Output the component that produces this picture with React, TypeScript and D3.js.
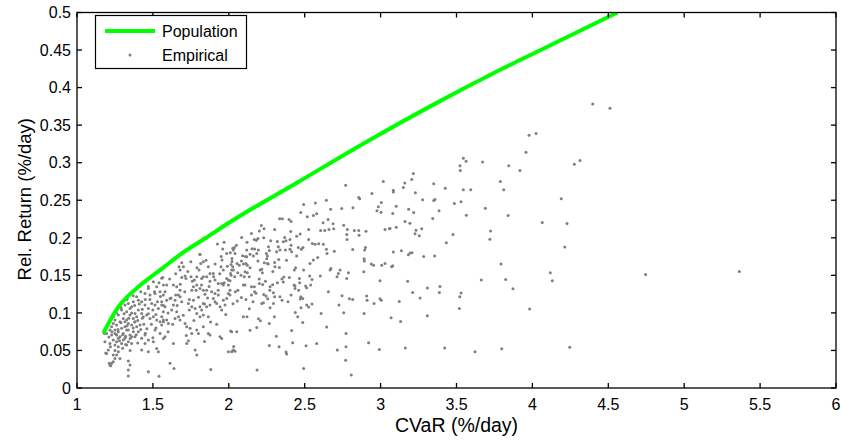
import * as d3 from "d3";

// population (true) efficient frontier
const popCvar = [1.173, 1.266, 1.43, 1.56, 1.675, 1.85, 2.009, 2.455, 2.9, 3.345, 3.791, 4.237, 4.56];
const popRet = [0.073, 0.106, 0.139, 0.159, 0.177, 0.2, 0.221, 0.274, 0.327, 0.377, 0.424, 0.468, 0.5];

// empirical portfolios: [CVaR, relative return]
const empirical: [number, number][] = [
  // far right
  [4.397, 0.378], [4.511, 0.3725], [4.314, 0.303], [4.746, 0.151], [5.363, 0.155],
  // 3.0 - 4.3
  [3.978, 0.3366], [4.024, 0.339], [3.958, 0.314], [4.276, 0.298], [3.545, 0.306], [3.563, 0.302],
  [3.523, 0.296], [3.525, 0.2896], [3.672, 0.301], [3.844, 0.296], [3.918, 0.2896], [3.789, 0.275],
  [3.811, 0.264], [3.545, 0.264], [3.594, 0.264], [3.426, 0.266], [3.35, 0.272], [3.216, 0.2856],
  [3.205, 0.2776], [3.159, 0.273], [3.15, 0.267], [3.084, 0.2634], [3.084, 0.261], [3.229, 0.26],
  [3.277, 0.2505], [3.35, 0.2497], [3.358, 0.251], [3.53, 0.248], [3.486, 0.2457], [3.103, 0.242],
  [3.69, 0.2395], [4.19, 0.252], [3.08, 0.2324], [3.185, 0.238], [3.218, 0.2337], [3.385, 0.236],
  [3.565, 0.23], [3.84, 0.2297], [3.343, 0.2257], [3.062, 0.2124], [3.103, 0.2142], [3.161, 0.2217],
  [3.193, 0.2195], [3.271, 0.212], [3.233, 0.21], [3.227, 0.2053], [3.255, 0.2026], [3.477, 0.2045],
  [3.725, 0.2089], [3.72, 0.198], [4.065, 0.2204], [4.228, 0.219], [4.213, 0.1876], [3.433, 0.1933],
  [3.084, 0.181], [3.137, 0.1827], [3.183, 0.1773], [3.194, 0.1796], [3.207, 0.18], [3.284, 0.1752],
  [3.356, 0.1756], [3.08, 0.1627], [3.073, 0.1614], [3.793, 0.165], [4.118, 0.1534], [4.131, 0.1428],
  [3.663, 0.1437], [3.824, 0.1446], [3.872, 0.1321], [3.178, 0.142], [3.391, 0.1353], [3.387, 0.1273],
  [3.308, 0.133], [3.211, 0.1273], [3.53, 0.1264], [3.521, 0.1215], [3.123, 0.1153], [3.26, 0.1197],
  [3.519, 0.106], [3.982, 0.1051], [3.069, 0.0935], [3.132, 0.0887], [3.308, 0.0962], [3.163, 0.0532],
  [3.422, 0.0532], [3.622, 0.0483], [3.798, 0.0523], [4.246, 0.0541],
  // 2.0 - 3.05
  [2.77, 0.27], [3.018, 0.275], [2.493, 0.2443], [2.57, 0.2465], [2.643, 0.25], [2.856, 0.2536],
  [2.862, 0.2519], [2.943, 0.259], [2.474, 0.2337], [2.517, 0.228], [2.557, 0.2297], [2.579, 0.232],
  [2.671, 0.238], [2.744, 0.239], [2.818, 0.2399], [2.985, 0.2412], [2.976, 0.236], [3.005, 0.247],
  [3.003, 0.234], [2.335, 0.2253], [2.353, 0.2253], [2.397, 0.2244], [2.41, 0.2217], [2.214, 0.2164],
  [2.232, 0.212], [2.201, 0.209], [2.302, 0.211], [2.168, 0.1978], [2.181, 0.1969], [2.192, 0.1991],
  [2.149, 0.2057], [2.085, 0.2004], [2.12, 0.1942], [2.276, 0.196], [2.368, 0.2004], [2.359, 0.1947],
  [2.377, 0.196], [2.408, 0.2084], [2.403, 0.1977], [2.447, 0.202], [2.526, 0.211], [2.605, 0.2097],
  [2.632, 0.2097], [2.66, 0.211], [2.691, 0.212], [2.687, 0.2186], [2.654, 0.2244], [2.621, 0.2199],
  [2.757, 0.2168], [2.781, 0.211], [2.777, 0.2044], [2.779, 0.1977], [2.827, 0.2097], [2.856, 0.2097],
  [2.904, 0.2088], [2.858, 0.2035], [3.029, 0.211], [3.058, 0.212], [2.526, 0.1977], [2.55, 0.1924],
  [2.568, 0.1915], [2.592, 0.192], [2.623, 0.1915], [2.489, 0.187], [2.478, 0.1849], [2.458, 0.187],
  [2.447, 0.1756], [2.643, 0.1849], [2.647, 0.179], [2.695, 0.182], [2.586, 0.1738], [2.557, 0.1703],
  [2.9, 0.187], [2.895, 0.1836], [2.891, 0.172], [2.893, 0.169], [2.816, 0.1844], [2.939, 0.165],
  [2.954, 0.1636], [3.007, 0.1636], [3.029, 0.1658], [2.889, 0.1547], [2.996, 0.1428], [2.673, 0.159],
  [2.667, 0.157], [2.713, 0.148], [2.722, 0.1525], [2.733, 0.157], [2.788, 0.1534], [2.777, 0.1459],
  [2.535, 0.1658], [2.533, 0.149], [2.603, 0.149], [2.493, 0.157], [2.432, 0.157], [2.465, 0.1459],
  [2.43, 0.137], [2.436, 0.1357], [2.399, 0.147], [2.362, 0.1477], [2.333, 0.1605], [2.302, 0.1671],
  [2.304, 0.1614], [2.329, 0.1711], [2.267, 0.183], [2.315, 0.1813], [2.261, 0.188], [2.25, 0.172],
  [2.234, 0.1667], [2.192, 0.169], [2.247, 0.179], [2.254, 0.1658], [2.221, 0.1534], [2.206, 0.157],
  [2.217, 0.158], [2.241, 0.142], [2.201, 0.1392], [2.223, 0.1379], [2.168, 0.1348], [2.149, 0.1348],
  [2.096, 0.137], [2.102, 0.148], [2.135, 0.148], [2.107, 0.1547], [2.122, 0.1534], [2.059, 0.1534],
  [2.03, 0.157], [2.015, 0.1645], [2.054, 0.1658], [2.096, 0.165], [2.113, 0.1658], [2.122, 0.1636],
  [2.083, 0.169], [2.069, 0.1636], [2.021, 0.1685], [2.026, 0.1614], [2.041, 0.179], [2.03, 0.1836],
  [2.037, 0.187], [2.118, 0.1836], [2.153, 0.1853], [2.195, 0.1836], [2.162, 0.1756], [2.184, 0.179],
  [2.118, 0.1747], [2.091, 0.176], [2.015, 0.15], [2.039, 0.148], [2.107, 0.137], [2.043, 0.128],
  [2.008, 0.13], [2.083, 0.1206], [2.113, 0.1179], [2.028, 0.1122], [2.056, 0.116], [2.149, 0.124],
  [2.179, 0.126], [2.23, 0.1246], [2.17, 0.128], [2.245, 0.1224], [2.256, 0.119], [2.217, 0.1126],
  [2.228, 0.1135], [2.294, 0.1126], [2.337, 0.1215], [2.351, 0.117], [2.272, 0.107], [2.135, 0.1055],
  [2.096, 0.0949], [2.14, 0.077], [2.184, 0.0807], [2.208, 0.0895], [2.195, 0.0922], [2.267, 0.086],
  [2.012, 0.0758], [2.052, 0.075], [2.032, 0.0554], [2.041, 0.0488], [2.026, 0.0497], [2.186, 0.024],
  [2.313, 0.069], [2.267, 0.0567], [2.331, 0.055], [2.377, 0.0479], [2.381, 0.0452], [2.414, 0.0767],
  [2.421, 0.0603], [2.438, 0.1006], [2.454, 0.0949], [2.476, 0.1068], [2.474, 0.1215], [2.471, 0.1184],
  [2.487, 0.1193], [2.513, 0.1104], [2.526, 0.108], [2.548, 0.1117], [2.487, 0.0873], [2.509, 0.0563],
  [2.493, 0.026], [2.579, 0.0594], [2.608, 0.0993], [2.645, 0.0811], [2.656, 0.128], [2.715, 0.0505],
  [2.726, 0.1104], [2.757, 0.1002], [2.772, 0.0727], [2.772, 0.055], [2.77, 0.037], [2.807, 0.0173],
  [2.746, 0.1228], [2.794, 0.119], [2.816, 0.1179], [2.908, 0.1224], [2.911, 0.117], [2.891, 0.0993],
  [2.957, 0.1126], [2.996, 0.119], [3.005, 0.117], [2.921, 0.0603], [2.992, 0.0514], [2.506, 0.1357],
  [2.513, 0.1335], [2.548, 0.1446], [2.539, 0.137], [2.467, 0.14], [2.41, 0.124], [2.436, 0.1325],
  [2.294, 0.1268], [2.302, 0.1215], [2.32, 0.14], [2.359, 0.141], [2.272, 0.1348], [2.289, 0.1375],
  [2.403, 0.1849], [2.414, 0.1813], [2.373, 0.1836], [2.326, 0.188], [2.337, 0.1836], [2.254, 0.1756],
  [2.14, 0.178],
  [2.05, 0.19], [2.08, 0.15], [2.11, 0.175], [2.14, 0.16], [2.17, 0.185], [2.2, 0.145], [2.23, 0.2],
  [2.26, 0.165], [2.29, 0.155], [2.32, 0.195], [2.35, 0.145], [2.38, 0.17], [2.41, 0.19], [2.44, 0.16],
  [2.47, 0.205], [2.06, 0.13], [2.16, 0.115], [2.27, 0.13], [2.39, 0.115], [2.46, 0.13], [2.12, 0.095],
  [2.3, 0.095],
  // 1.55 - 2.0
  [1.925, 0.1916], [1.969, 0.1942], [1.69, 0.1667], [1.701, 0.1614], [1.672, 0.1614], [1.679, 0.157],
  [1.81, 0.1778], [1.832, 0.168], [1.815, 0.1658], [1.804, 0.157], [1.955, 0.1703], [1.949, 0.1614],
  [1.964, 0.157], [2.01, 0.18], [1.986, 0.1791], [2.021, 0.1725], [2.026, 0.1862], [1.865, 0.1614],
  [1.876, 0.1525], [2.019, 0.157], [2.012, 0.1525], [1.565, 0.1472], [1.591, 0.137], [1.635, 0.137],
  [1.657, 0.1348], [1.679, 0.1303], [1.668, 0.1237], [1.712, 0.149], [1.718, 0.1459], [1.751, 0.1481],
  [1.789, 0.1481], [1.773, 0.1437], [1.821, 0.1459], [1.832, 0.1481], [1.854, 0.1481], [1.876, 0.1423],
  [1.898, 0.1525], [1.909, 0.1437], [1.931, 0.1392], [1.953, 0.1392], [1.964, 0.137], [1.997, 0.137],
  [1.986, 0.1459], [1.997, 0.1437], [2.008, 0.1428], [1.789, 0.137], [1.767, 0.1348], [1.756, 0.1303],
  [1.784, 0.1303], [1.81, 0.1326], [1.832, 0.1303], [1.843, 0.125], [1.854, 0.1303], [1.887, 0.1281],
  [1.909, 0.1259], [1.931, 0.1237], [1.898, 0.1193], [1.909, 0.1148], [1.997, 0.1259], [2.008, 0.1237],
  [1.986, 0.1193], [1.964, 0.117], [1.975, 0.1104], [1.942, 0.1082], [1.953, 0.1037], [1.92, 0.1126],
  [1.854, 0.1082], [1.876, 0.1104], [1.832, 0.1126], [1.81, 0.1082], [1.821, 0.1037], [1.767, 0.117],
  [1.756, 0.1082], [1.734, 0.1126], [1.74, 0.1037], [1.778, 0.106], [1.789, 0.0993], [1.81, 0.0949],
  [1.832, 0.0971], [1.865, 0.0949], [1.679, 0.1215], [1.69, 0.1148], [1.646, 0.117], [1.613, 0.1193],
  [1.635, 0.1104], [1.591, 0.117], [1.569, 0.1237], [1.558, 0.1148], [1.58, 0.1082], [1.624, 0.1037],
  [1.657, 0.1015], [1.668, 0.0949], [1.679, 0.0904], [1.646, 0.0927], [1.558, 0.0949], [1.569, 0.0882],
  [1.591, 0.0904], [1.602, 0.086], [1.712, 0.086], [1.723, 0.0816], [1.745, 0.0794], [1.756, 0.0727],
  [1.789, 0.0771], [1.8, 0.0727], [1.865, 0.0727], [1.876, 0.0705], [1.832, 0.0816], [1.942, 0.0683],
  [1.953, 0.066], [1.58, 0.0683], [1.569, 0.066], [1.635, 0.0594], [1.723, 0.0594], [1.734, 0.063],
  [1.778, 0.0505], [1.789, 0.0439], [1.997, 0.0483], [2.019, 0.0483], [2.03, 0.0505], [2.019, 0.0749],
  [1.613, 0.0328], [1.639, 0.0261], [1.881, 0.0248], [1.54, 0.0156],
  [1.58, 0.128], [1.6, 0.1], [1.61, 0.145], [1.62, 0.12], [1.63, 0.085], [1.65, 0.152], [1.66, 0.11],
  [1.68, 0.138], [1.7, 0.097], [1.71, 0.128], [1.73, 0.155], [1.74, 0.118], [1.76, 0.142], [1.77, 0.09],
  [1.79, 0.16], [1.8, 0.121], [1.82, 0.137], [1.84, 0.112], [1.85, 0.17], [1.87, 0.135], [1.88, 0.088],
  [1.9, 0.148], [1.91, 0.165], [1.93, 0.13], [1.94, 0.152], [1.96, 0.185], [1.97, 0.14], [1.98, 0.098],
  [1.99, 0.162], [1.6, 0.075], [1.72, 0.07], [1.84, 0.062], [1.92, 0.085], [1.65, 0.124], [1.75, 0.168],
  [1.86, 0.12], [1.95, 0.175], [1.69, 0.147], [1.81, 0.178], [1.57, 0.11],
  // 1.17 - 1.55
  [1.503, 0.1414], [1.525, 0.1348], [1.558, 0.146], [1.569, 0.137], [1.47, 0.1326], [1.448, 0.1259],
  [1.481, 0.1237], [1.514, 0.1259], [1.547, 0.1281], [1.393, 0.1215], [1.404, 0.117], [1.426, 0.1148],
  [1.448, 0.1104], [1.47, 0.106], [1.492, 0.1126], [1.514, 0.1104], [1.536, 0.106], [1.558, 0.1104],
  [1.569, 0.1015], [1.338, 0.1126], [1.36, 0.1082], [1.327, 0.1015], [1.349, 0.0971], [1.382, 0.0993],
  [1.404, 0.1037], [1.426, 0.0993], [1.437, 0.0949], [1.459, 0.0971], [1.481, 0.0927], [1.503, 0.0949],
  [1.525, 0.0904], [1.547, 0.0882], [1.569, 0.0904], [1.294, 0.1037], [1.272, 0.0971], [1.305, 0.0927],
  [1.283, 0.0882], [1.316, 0.0882], [1.25, 0.0904], [1.261, 0.0838], [1.239, 0.086], [1.228, 0.0816],
  [1.338, 0.086], [1.36, 0.0838], [1.382, 0.0882], [1.393, 0.0816], [1.415, 0.0838], [1.338, 0.0771],
  [1.371, 0.0749], [1.404, 0.0749], [1.349, 0.0705], [1.382, 0.0683], [1.294, 0.0794], [1.305, 0.0727],
  [1.272, 0.0749], [1.316, 0.0661], [1.283, 0.0683], [1.206, 0.0838], [1.217, 0.0771], [1.195, 0.0727],
  [1.228, 0.0705], [1.25, 0.0727], [1.239, 0.0638], [1.261, 0.0616], [1.217, 0.0594], [1.25, 0.0572],
  [1.272, 0.0549], [1.294, 0.0594], [1.327, 0.0572], [1.338, 0.0616], [1.36, 0.0594], [1.426, 0.0661],
  [1.448, 0.0705], [1.47, 0.0638], [1.503, 0.0616], [1.448, 0.0594], [1.514, 0.0771], [1.547, 0.0727],
  [1.558, 0.0838], [1.426, 0.0505], [1.47, 0.0483], [1.525, 0.0527], [1.536, 0.0483], [1.195, 0.0461],
  [1.206, 0.0505], [1.239, 0.0439], [1.25, 0.0394], [1.228, 0.0328], [1.217, 0.0306], [1.239, 0.035],
  [1.261, 0.0439], [1.283, 0.0394], [1.272, 0.0483], [1.338, 0.0359], [1.349, 0.0306], [1.338, 0.0239],
  [1.338, 0.016], [1.47, 0.0217], [1.18, 0.0727], [1.184, 0.0616], [1.316, 0.0816], [1.327, 0.0771],
  [1.25, 0.0771], [1.272, 0.0661], [1.305, 0.0638], [1.261, 0.0705], [1.36, 0.0683], [1.327, 0.0904],
  [1.371, 0.0927], [1.393, 0.0949], [1.349, 0.106], [1.316, 0.1104], [1.371, 0.1148], [1.189, 0.0466],
  [1.213, 0.033], [1.222, 0.0297],
  [1.21, 0.068], [1.23, 0.075], [1.24, 0.095], [1.26, 0.1], [1.28, 0.063], [1.29, 0.087], [1.3, 0.071],
  [1.31, 0.099], [1.32, 0.058], [1.33, 0.083], [1.34, 0.093], [1.35, 0.066], [1.36, 0.1], [1.37, 0.08],
  [1.38, 0.11], [1.39, 0.071], [1.4, 0.09], [1.41, 0.112], [1.42, 0.078], [1.43, 0.105], [1.44, 0.085],
  [1.45, 0.118], [1.46, 0.079], [1.47, 0.099], [1.48, 0.118], [1.49, 0.085], [1.5, 0.104], [1.51, 0.128],
  [1.52, 0.098], [1.53, 0.115], [1.54, 0.14], [1.55, 0.122], [1.22, 0.055], [1.25, 0.05], [1.27, 0.078],
  [1.3, 0.053], [1.35, 0.05], [1.4, 0.06], [1.45, 0.073], [1.5, 0.067], [1.29, 0.107], [1.33, 0.118],
  [1.37, 0.123], [1.42, 0.128], [1.47, 0.135], [1.26, 0.071], [1.32, 0.069], [1.38, 0.088], [1.43, 0.093],
  [1.52, 0.08],
];

const xTicks = [1, 1.5, 2, 2.5, 3, 3.5, 4, 4.5, 5, 5.5, 6];
const yTicks = [0, 0.05, 0.1, 0.15, 0.2, 0.25, 0.3, 0.35, 0.4, 0.45, 0.5];

const W = 841;
const H = 441;
const FONT = "'Liberation Sans', Arial, Helvetica, sans-serif";
const GREEN = "#00ff00";
const GREY = "#7f7f7f";

export default function App() {
  const x = d3.scaleLinear().domain([1, 6]).range([77, 836]);
  const y = d3.scaleLinear().domain([0, 0.5]).range([388, 12.5]);
  const [x0, x1] = x.range();
  const [y0, y1] = y.range();

  const popLine = d3
    .line<number>()
    .x((_, i) => x(popCvar[i]))
    .y((d) => y(d))
    .curve(d3.curveMonotoneX);

  const tick = 5;

  return (
    <svg
      width={W}
      height={H}
      style={{ position: "absolute", left: 0, top: 0, background: "#fff" }}
      fontFamily={FONT}
    >
      <defs>
        <clipPath id="plot">
          <rect x={x0} y={y1} width={x1 - x0} height={y0 - y1} />
        </clipPath>
      </defs>
      <rect width={W} height={H} fill="#fff" />

      {/* scatter */}
      <g fill={GREY}>
        {empirical.map(([c, r], i) => (
          <circle key={i} cx={x(c)} cy={y(r)} r={1.5} />
        ))}
      </g>

      {/* population frontier */}
      <path
        d={popLine(popRet) ?? ""}
        fill="none"
        stroke={GREEN}
        strokeWidth={4}
        strokeLinejoin="round"
        clipPath="url(#plot)"
      />

      {/* frame + ticks */}
      <g stroke="#000" strokeWidth={1.3} fill="none">
        <rect x={x0} y={y1} width={x1 - x0} height={y0 - y1} />
        {xTicks.map((t) => (
          <g key={"xt" + t}>
            <line x1={x(t)} x2={x(t)} y1={y0} y2={y0 - tick} />
            <line x1={x(t)} x2={x(t)} y1={y1} y2={y1 + tick} />
          </g>
        ))}
        {yTicks.map((t) => (
          <g key={"yt" + t}>
            <line x1={x0} x2={x0 + tick} y1={y(t)} y2={y(t)} />
            <line x1={x1} x2={x1 - tick} y1={y(t)} y2={y(t)} />
          </g>
        ))}
      </g>

      {/* tick labels */}
      <g fontSize={16} fill="#000">
        {xTicks.map((t) => (
          <text key={"xl" + t} x={x(t)} y={409.5} textAnchor="middle">
            {t}
          </text>
        ))}
        {yTicks.map((t) => (
          <text key={"yl" + t} x={71} y={y(t)} dy="0.36em" textAnchor="end">
            {t}
          </text>
        ))}
      </g>

      {/* axis labels */}
      <text x={(x0 + x1) / 2} y={431.5} fontSize={19.5} textAnchor="middle">
        CVaR (%/day)
      </text>
      <text
        transform={`translate(31,${(y0 + y1) / 2 - 1}) rotate(-90)`}
        fontSize={18.5}
        textAnchor="middle"
      >
        Rel. Return (%/day)
      </text>

      {/* legend */}
      <g>
        <rect x={95.5} y={15.5} width={151} height={53} fill="#fff" stroke="#000" strokeWidth={1.2} />
        <line x1={105} x2={155} y1={31} y2={31} stroke={GREEN} strokeWidth={4} />
        <text x={162} y={31} dy="0.36em" fontSize={16}>
          Population
        </text>
        <circle cx={130} cy={55} r={1.5} fill={GREY} />
        <text x={162} y={55} dy="0.36em" fontSize={16}>
          Empirical
        </text>
      </g>
    </svg>
  );
}
